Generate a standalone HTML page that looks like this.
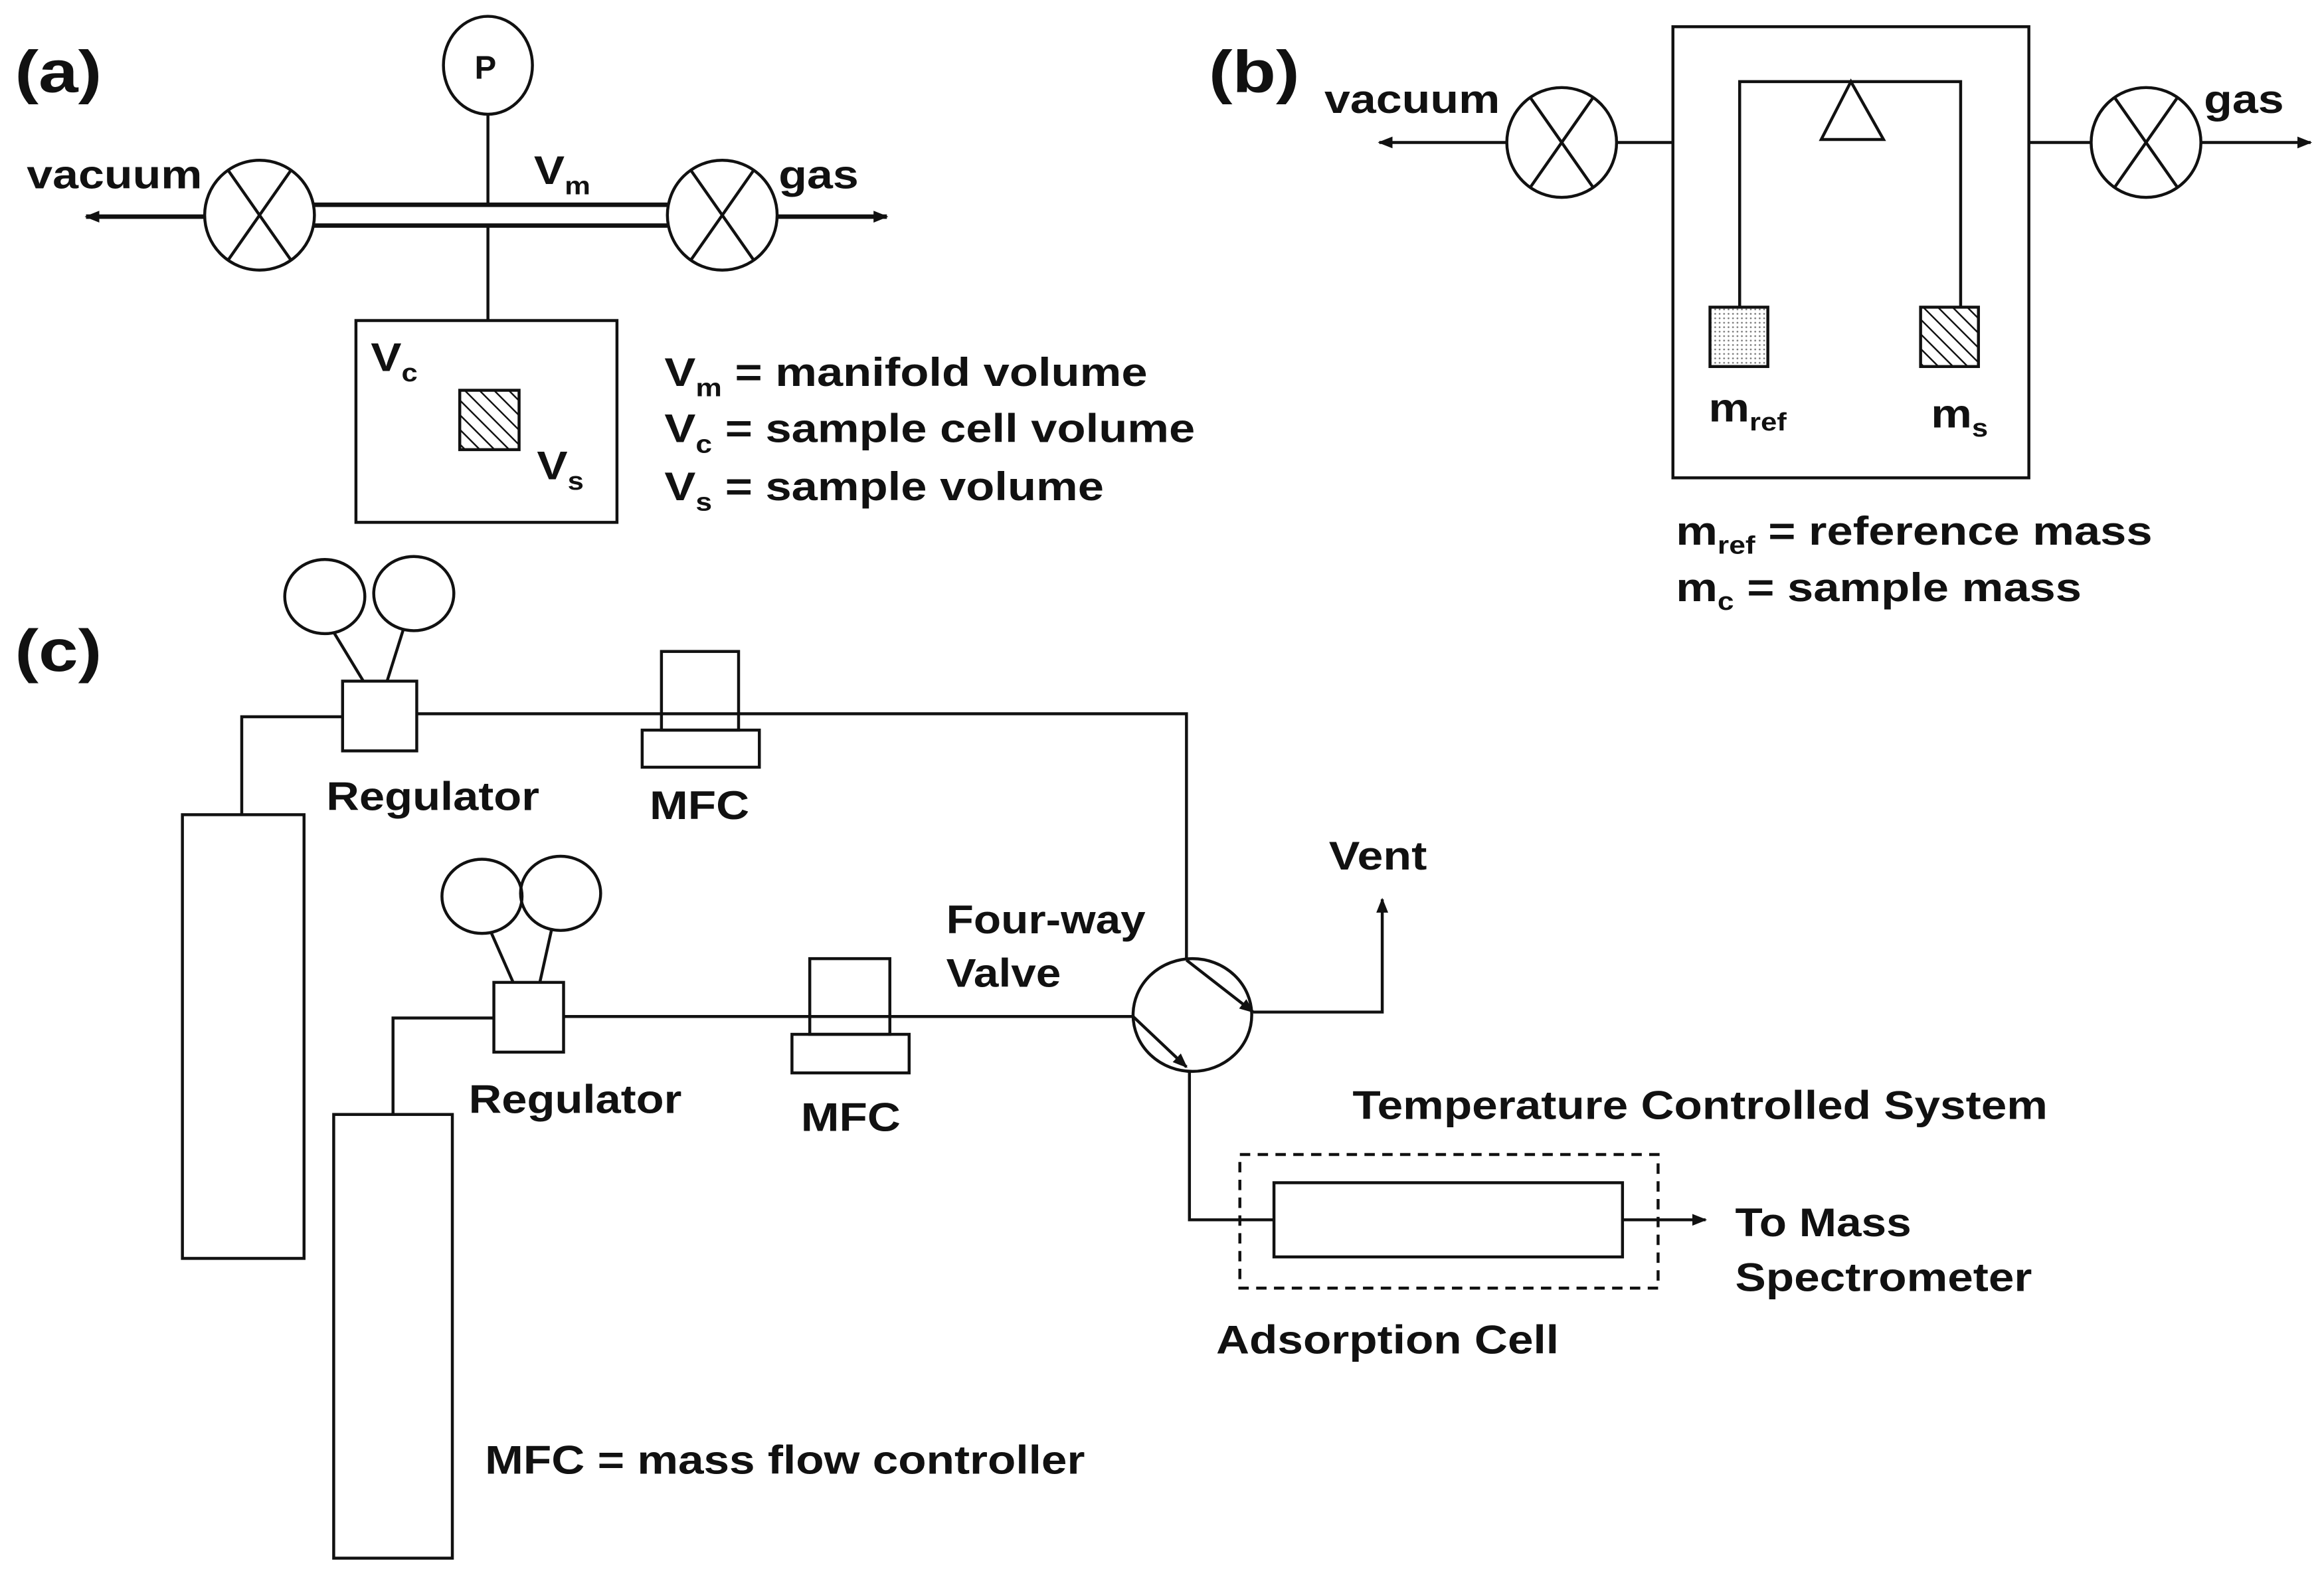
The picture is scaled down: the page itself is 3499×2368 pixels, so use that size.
<!DOCTYPE html>
<html><head><meta charset="utf-8"><style>
html,body{margin:0;padding:0;background:#fff;}
svg{display:block;}
text{font-family:"Liberation Sans",Arial,sans-serif;font-weight:bold;fill:#111;}
</style></head><body>
<svg width="3499" height="2368" viewBox="0 0 1567 1060" preserveAspectRatio="none" xmlns="http://www.w3.org/2000/svg">
<defs>
<marker id="ah" markerWidth="10" markerHeight="10" refX="9" refY="5" orient="auto" markerUnits="userSpaceOnUse">
<path d="M0,1 L10,5 L0,9 Z" fill="#111"/></marker>
<pattern id="hatch" width="7" height="7" patternUnits="userSpaceOnUse" patternTransform="rotate(-45)">
<rect width="7" height="7" fill="#fff"/><line x1="0" y1="0" x2="0" y2="7" stroke="#111" stroke-width="2.2"/></pattern>
<pattern id="dots" width="3" height="3" patternUnits="userSpaceOnUse">
<rect width="3" height="3" fill="#fff"/><circle cx="1.5" cy="1.5" r="0.6" fill="#777"/></pattern>
</defs>
<g stroke="#111" stroke-width="2" fill="none">
<ellipse cx="329" cy="44" rx="30" ry="33" fill="#fff"/>
<line x1="329" y1="77" x2="329" y2="138"/>
<line x1="329" y1="152" x2="329" y2="216"/>
<line x1="211" y1="138" x2="450" y2="138" stroke-width="3"/>
<line x1="211" y1="152" x2="450" y2="152" stroke-width="3"/>
<ellipse cx="175" cy="145" rx="37" ry="37"/>
<line x1="154" y1="115" x2="196" y2="175"/><line x1="196" y1="115" x2="154" y2="175"/>
<ellipse cx="487" cy="145" rx="37" ry="37"/>
<line x1="466" y1="115" x2="508" y2="175"/><line x1="508" y1="115" x2="466" y2="175"/>
<line x1="138" y1="146" x2="58" y2="146" stroke-width="3" marker-end="url(#ah)"/>
<line x1="524" y1="146" x2="598" y2="146" stroke-width="3" marker-end="url(#ah)"/>
<rect x="240" y="216" width="176" height="136"/>
<rect x="310" y="263" width="40" height="40" fill="url(#hatch)"/>
<rect x="1128" y="18" width="240" height="304"/>
<ellipse cx="1053" cy="96" rx="37" ry="37"/>
<line x1="1032" y1="66" x2="1074" y2="126"/><line x1="1074" y1="66" x2="1032" y2="126"/>
<ellipse cx="1447" cy="96" rx="37" ry="37"/>
<line x1="1426" y1="66" x2="1468" y2="126"/><line x1="1468" y1="66" x2="1426" y2="126"/>
<line x1="1090" y1="96" x2="1128" y2="96"/>
<line x1="1368" y1="96" x2="1410" y2="96"/>
<line x1="1016" y1="96" x2="930" y2="96" marker-end="url(#ah)"/>
<line x1="1484" y1="96" x2="1558" y2="96" marker-end="url(#ah)"/>
<polyline points="1173,207 1173,55 1322,55 1322,207"/>
<polygon points="1248,55 1228,94 1270,94"/>
<rect x="1153" y="207" width="39" height="40" fill="url(#dots)"/>
<rect x="1295" y="207" width="39" height="40" fill="url(#hatch)"/>
<ellipse cx="219" cy="402" rx="27" ry="25"/>
<ellipse cx="279" cy="400" rx="27" ry="25"/>
<line x1="225" y1="426" x2="245" y2="459"/><line x1="272" y1="424" x2="261" y2="459"/>
<rect x="231" y="459" width="50" height="47"/>
<rect x="123" y="549" width="82" height="299"/>
<polyline points="163,549 163,483 231,483"/>
<polyline points="281,481 800,481 800,647"/>
<rect x="446" y="439" width="52" height="53"/>
<rect x="433" y="492" width="79" height="25"/>
<ellipse cx="325" cy="604" rx="27" ry="25"/>
<ellipse cx="378" cy="602" rx="27" ry="25"/>
<line x1="331" y1="628" x2="346" y2="662"/><line x1="372" y1="626" x2="364" y2="662"/>
<rect x="333" y="662" width="47" height="47"/>
<rect x="225" y="751" width="80" height="299"/>
<polyline points="265,751 265,686 333,686"/>
<line x1="380" y1="685" x2="764" y2="685"/>
<rect x="546" y="646" width="54" height="51"/>
<rect x="534" y="697" width="79" height="26"/>
<ellipse cx="804" cy="684" rx="40" ry="38"/>
<line x1="800" y1="647" x2="845" y2="682" marker-end="url(#ah)"/>
<line x1="764" y1="685" x2="800" y2="719" marker-end="url(#ah)"/>
<polyline points="845,682 932,682 932,606" marker-end="url(#ah)"/>
<polyline points="802,722 802,822 859,822"/>
<rect x="859" y="797" width="235" height="50"/>
<rect x="836" y="778" width="282" height="90" stroke-dasharray="7,5"/>
<line x1="1094" y1="822" x2="1150" y2="822" marker-end="url(#ah)"/>
</g>
<text transform="translate(10,62) scale(1.2,1)" font-size="40">(a)</text>
<text transform="translate(815,62) scale(1.2,1)" font-size="40">(b)</text>
<text transform="translate(10,452) scale(1.2,1)" font-size="40">(c)</text>
<text x="320" y="53" font-size="22">P</text>
<g font-size="27">
<text transform="translate(18,127) scale(1.16,1)">vacuum</text>
<text transform="translate(525,127) scale(1.16,1)">gas</text>
<text transform="translate(360,124) scale(1.15,1)">V<tspan font-size="17" dy="7">m</tspan></text>
<text transform="translate(250,250) scale(1.15,1)">V<tspan font-size="17" dy="7">c</tspan></text>
<text transform="translate(362,323) scale(1.15,1)">V<tspan font-size="17" dy="7">s</tspan></text>
<text transform="translate(448,260) scale(1.17,1)">V<tspan font-size="17" dy="7">m</tspan><tspan dy="-7"> = manifold volume</tspan></text>
<text transform="translate(448,298) scale(1.17,1)">V<tspan font-size="17" dy="7">c</tspan><tspan dy="-7"> = sample cell volume</tspan></text>
<text transform="translate(448,337) scale(1.17,1)">V<tspan font-size="17" dy="7">s</tspan><tspan dy="-7"> = sample volume</tspan></text>
<text transform="translate(893,76) scale(1.16,1)">vacuum</text>
<text transform="translate(1486,76) scale(1.16,1)">gas</text>
<text transform="translate(1152,284) scale(1.15,1)">m<tspan font-size="17" dy="6">ref</tspan></text>
<text transform="translate(1302,288) scale(1.15,1)">m<tspan font-size="17" dy="6">s</tspan></text>
<text transform="translate(1130,367) scale(1.17,1)">m<tspan font-size="17" dy="6">ref</tspan><tspan dy="-6"> = reference mass</tspan></text>
<text transform="translate(1130,405) scale(1.17,1)">m<tspan font-size="17" dy="6">c</tspan><tspan dy="-6"> = sample mass</tspan></text>
<text transform="translate(220,546) scale(1.14,1)">Regulator</text>
<text transform="translate(438,552) scale(1.15,1)">MFC</text>
<text transform="translate(316,750) scale(1.14,1)">Regulator</text>
<text transform="translate(540,762) scale(1.15,1)">MFC</text>
<text transform="translate(638,629) scale(1.12,1)">Four-way</text>
<text transform="translate(638,665) scale(1.12,1)">Valve</text>
<text transform="translate(896,586) scale(1.16,1)">Vent</text>
<text transform="translate(912,754) scale(1.15,1)">Temperature Controlled System</text>
<text transform="translate(1170,833) scale(1.12,1)">To Mass</text>
<text transform="translate(1170,870) scale(1.15,1)">Spectrometer</text>
<text transform="translate(820,912) scale(1.15,1)">Adsorption Cell</text>
<text transform="translate(327,993) scale(1.15,1)">MFC = mass flow controller</text>
</g>
</svg>
</body></html>
